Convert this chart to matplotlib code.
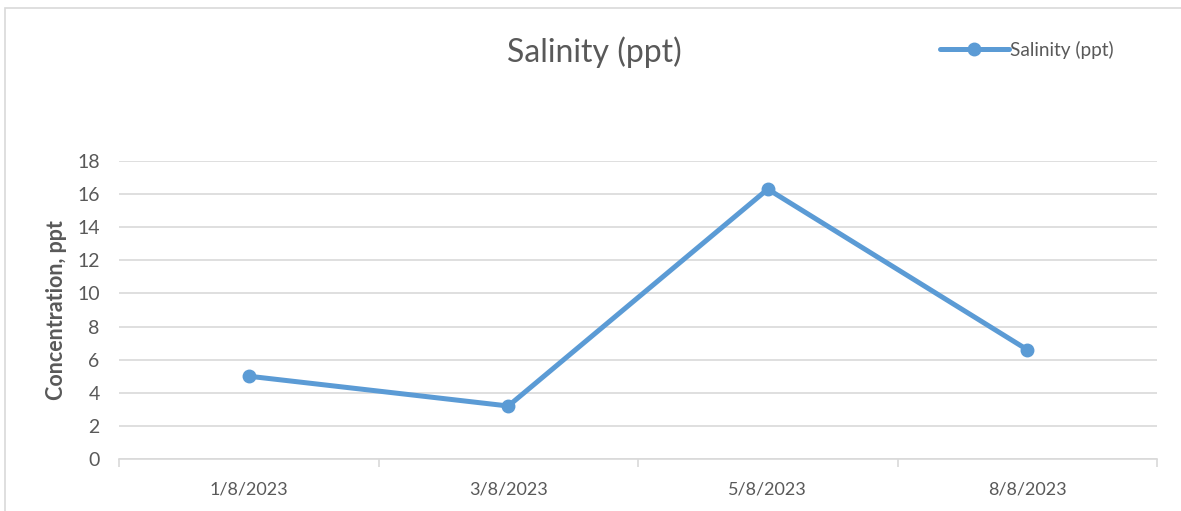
import matplotlib.pyplot as plt
from matplotlib.patches import Rectangle
from matplotlib.ticker import FixedLocator, NullFormatter

plt.rcParams['font.family'] = ['Lato', 'DejaVu Sans']

# data
dates = ['1/8/2023', '3/8/2023', '5/8/2023', '8/8/2023']
salinity = [5.0, 3.2, 16.3, 6.6]

blue = '#5B9BD5'
grey_text = '#595959'
grid_col = '#D9D9D9'

fig = plt.figure(figsize=(11.81, 5.11), dpi=100)
ax = fig.add_axes([0.1008, 0.1018, 0.8789, 0.5832])

x = list(range(len(dates)))
ax.plot(x, salinity, color=blue, lw=3.6, marker='o', markersize=9,
        label='Salinity (ppt)', solid_capstyle='round', zorder=3)

ax.set_xlim(-0.5, len(dates) - 0.5)
ax.set_ylim(0, 18)
ax.set_yticks(range(0, 19, 2))
ax.set_xticks(x)
ax.set_xticklabels(dates)
ax.xaxis.set_minor_locator(FixedLocator([i - 0.5 for i in range(len(dates) + 1)]))
ax.xaxis.set_minor_formatter(NullFormatter())

ax.grid(axis='y', color=grid_col, lw=1.2)
ax.set_axisbelow(True)
for s in ['top', 'right', 'left']:
    ax.spines[s].set_visible(False)
ax.spines['bottom'].set_color(grid_col)
ax.spines['bottom'].set_linewidth(1.2)

ax.tick_params(axis='y', length=0, pad=14, labelsize=14, labelcolor=grey_text)
ax.tick_params(axis='x', which='major', length=0, pad=16, labelsize=13, labelcolor=grey_text)
ax.tick_params(axis='x', which='minor', length=6, width=1.2, color=grid_col)

ax.set_ylabel('Concentration, ppt', fontsize=15.5, fontweight='bold', color=grey_text, labelpad=7)

fig.text(0.503, 0.898, 'Salinity (ppt)', ha='center', va='center', fontsize=23, color=grey_text)

ax.legend(loc='center left', bbox_to_anchor=(0.791, 1.372), frameon=False, fontsize=13.7,
          labelcolor=grey_text, handlelength=3.6, handletextpad=0.1, borderpad=0,
          borderaxespad=0)

# chart border like the spreadsheet frame
fig.patches.append(Rectangle((0.004, -0.01), 1.1, 0.995, transform=fig.transFigure,
                             fill=False, edgecolor=grid_col, lw=1.2))

fig.savefig('out.png', dpi=100)
